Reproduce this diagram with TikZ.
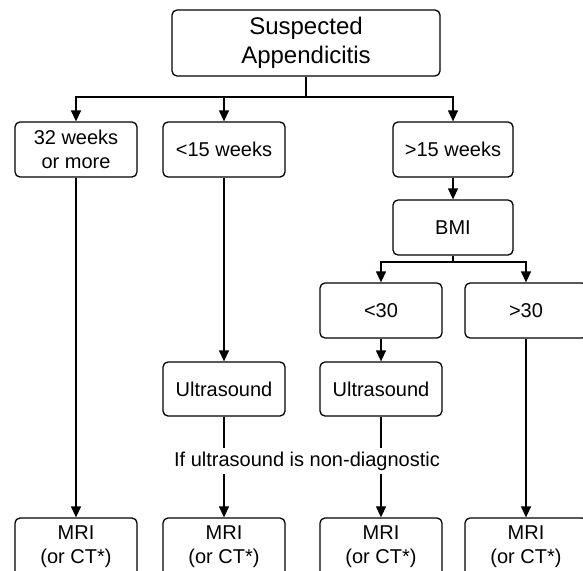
\documentclass[tikz,border=0pt]{standalone}
\usepackage{fontspec}
\setmainfont{Liberation Sans}
\usetikzlibrary{arrows.meta}
\begin{document}
\begin{tikzpicture}[x=1pt,y=-1pt,
  box/.style={draw, rounded corners=5pt, line width=1.3pt, minimum width=122pt,
    minimum height=55pt, inner sep=0pt, align=center,
    font=\fontsize{20}{24}\selectfont},
  arr/.style={line width=1.3pt, -{Triangle[length=11pt,width=10pt]}},
  ln/.style={line width=1.3pt},
  note/.style={inner sep=0pt, minimum height=26pt, font=\fontsize{20}{24}\selectfont}]
\useasboundingbox (0,0) rectangle (583,570);
\clip (0,0) rectangle (583,570);
% nodes
\node[box, minimum width=268pt, minimum height=66pt, font=\fontsize{24}{29}\selectfont]
  (top) at (306,43) {Suspected\\Appendicitis};
\node[box] (a1) at (76,149.5) {32 weeks\\or more};
\node[box] (b1) at (224,149.5) {<15 weeks};
\node[box, minimum width=120pt] (c1) at (453,149.5) {>15 weeks};
\node[box, minimum width=120pt] (bmi) at (453,227.5) {BMI};
\node[box] (d1) at (381,310.5) {<30};
\node[box] (e1) at (526,310.5) {>30};
\node[box, minimum height=54pt] (b2) at (224,389) {Ultrasound};
\node[box, minimum height=54pt] (d2) at (381,389) {Ultrasound};
\node[note] (nt) at (307,461) {If ultrasound is non-diagnostic};
\node[box, minimum height=58pt] (m1) at (76,547) {MRI\\(or CT*)};
\node[box, minimum height=58pt] (m2) at (224,547) {MRI\\(or CT*)};
\node[box, minimum height=58pt] (m3) at (381,547) {MRI\\(or CT*)};
\node[box, minimum height=58pt] (m4) at (526,547) {MRI\\(or CT*)};
% connectors
\coordinate (bus1) at (306,97);
\coordinate (bus2) at (453,262);
\draw[ln] (top.south) -- (bus1);
\draw[arr] (bus1) -| (a1.north);
\draw[arr] (bus1) -| (b1.north);
\draw[arr] (bus1) -| (c1.north);
\draw[arr] (c1.south) -- (bmi.north);
\draw[ln] (bmi.south) -- (bus2);
\draw[arr] (bus2) -| (d1.north);
\draw[arr] (bus2) -| (e1.north);
\draw[arr] (a1.south) -- (m1.north);
\draw[arr] (b1.south) -- (b2.north);
\draw[arr] (d1.south) -- (d2.north);
\draw[arr] (e1.south) -- (m4.north);
\draw[ln] (b2.south) -- (b2.south |- nt.north);
\draw[arr] (b2.south |- nt.south) -- (m2.north);
\draw[ln] (d2.south) -- (d2.south |- nt.north);
\draw[arr] (d2.south |- nt.south) -- (m3.north);
\end{tikzpicture}
\end{document}
